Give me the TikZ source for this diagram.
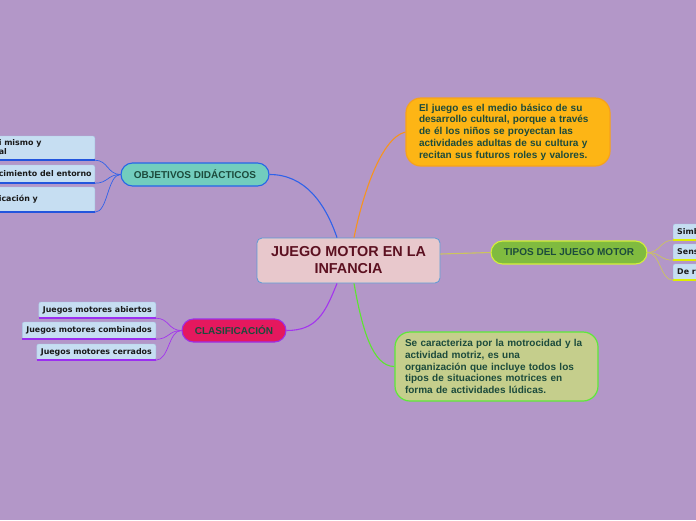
\documentclass[tikz,border=0pt]{standalone}
\usepackage{fontspec}
\setmainfont{Liberation Sans}
\newfontfamily\childfont{DejaVu Sans}
\usetikzlibrary{calc}
\definecolor{bg}{HTML}{B397C8}
\definecolor{cfill}{HTML}{E8C8CC}
\definecolor{cborder}{HTML}{5B9BD5}
\definecolor{ctext}{HTML}{5C1020}
\definecolor{ntext}{HTML}{1C4B3C}
\definecolor{ofill}{HTML}{FDB515}
\definecolor{oborder}{HTML}{F7A21B}
\definecolor{gfill}{HTML}{C5CE8C}
\definecolor{gborder}{HTML}{5EE83A}
\definecolor{objfill}{HTML}{72CDBE}
\definecolor{objborder}{HTML}{2566E8}
\definecolor{tipfill}{HTML}{80BB3F}
\definecolor{tipborder}{HTML}{D4F03A}
\definecolor{clafill}{HTML}{E5185E}
\definecolor{claborder}{HTML}{9B30E8}
\definecolor{chfill}{HTML}{C6DEF2}
\definecolor{chborder}{HTML}{A9C8E6}
\definecolor{lblue}{HTML}{2F62EA}
\definecolor{lorange}{HTML}{F7941D}
\definecolor{lolive}{HTML}{CCC45E}
\definecolor{lgreen}{HTML}{5CE62E}
\definecolor{lpurple}{HTML}{A335EE}
\definecolor{ulblue}{HTML}{2255DD}
\definecolor{ulpurple}{HTML}{9B2FF0}
\definecolor{ulyellow}{HTML}{DDEE00}
\tikzset{
  central/.style={draw=cborder, fill=cfill, line width=0.8pt, rounded corners=5pt,
    minimum width=183pt, minimum height=45pt, inner sep=0pt, align=center,
    font=\fontsize{14.4}{17}\selectfont\bfseries, text=ctext},
  note/.style={rounded corners=15pt, line width=1.2pt, inner ysep=0pt,
    align=left, font=\fontsize{10}{11.7}\selectfont\bfseries, text=ntext},
  topic/.style={rounded corners=11.5pt, line width=1.1pt, minimum height=23pt, inner sep=0pt,
    font=\fontsize{10}{12}\selectfont\bfseries, text=ntext},
  child/.style={fill=chfill, draw=chborder, line width=0.4pt, rounded corners=2pt,
    inner xsep=4pt, inner ysep=0pt, align=left, text=black!90,
    font=\childfont\fontsize{7.9}{9}\selectfont\bfseries},
  conn/.style={line width=1.1pt},
  sub/.style={line width=0.7pt},
}
\begin{document}
\begin{tikzpicture}[x=1pt,y=-1pt]
\useasboundingbox (0,0) rectangle (696,520);
\clip (0,0) rectangle (696,520);
\fill[bg] (0,0) rectangle (696,520);

% central
\node[central] (c) at (348.5,260.5) {JUEGO MOTOR EN LA\\INFANCIA};

% notes
\node[note, draw=oborder, fill=ofill, inner xsep=13pt, minimum width=204pt, minimum height=68pt, text width=178pt] (o) at (508,132)
 {El juego es el medio básico de su\\desarrollo cultural, porque a través\\de él los niños se proyectan las\\actividades adultas de su cultura y\\recitan sus futuros roles y valores.};
\node[note, draw=gborder, fill=gfill, inner xsep=10pt, minimum width=203pt, minimum height=69pt, text width=183pt] (g) at (496.5,366.5)
 {Se caracteriza por la motrocidad y la\\actividad motriz, es una\\organización que incluye todos los\\tipos de situaciones motrices en\\forma de actividades lúdicas.};

% topics
\node[topic, draw=objborder, fill=objfill, minimum width=148pt] (obj) at (195,174.5) {OBJETIVOS DIDÁCTICOS};
\node[topic, draw=tipborder, fill=tipfill, minimum width=156pt] (tip) at (569,252.5) {TIPOS DEL JUEGO MOTOR};
\node[topic, draw=claborder, fill=clafill, minimum width=104pt] (cla) at (234,330.5) {CLASIFICACIÓN};

% main connectors
\coordinate (ctl) at ($(c.north)+(-11.5,0)$);
\coordinate (ctr) at ($(c.north)+(5.5,0)$);
\coordinate (cbl) at ($(c.south)+(-11.5,0)$);
\coordinate (cbr) at ($(c.south)+(5.5,0)$);
\coordinate (cer) at ($(c.east)+(0,-6.5)$);
\draw[conn, lblue] (obj.east) .. controls +(35,0) and +(-12,-35) .. (ctl);
\draw[conn, lorange] (ctr) .. controls +(8,-40) and +(-25,6) .. (o.west);
\draw[conn, lolive] (cer) .. controls +(25,0) and +(-25,0) .. (tip.west);
\draw[conn, lgreen] (cbr) .. controls +(8,45) and +(-22,0) .. (g.west);
\draw[conn, lpurple] (cbl) .. controls +(-12,30) and +(30,0) .. (cla.east);

% objetivos children
\node[child, anchor=east, minimum height=24pt] (o1) at (95,148) {\makebox[92pt][l]{\begin{tabular}{@{}l@{}}i mismo y\\al\end{tabular}}};
\node[child, anchor=east, minimum height=18pt] (o2) at (95,174) {\makebox[92pt][l]{cimiento del entorno}};
\node[child, anchor=east, minimum height=25pt] (o3) at (95,199.5) {\makebox[92pt][l]{\begin{tabular}{@{}l@{}}icación y\\\end{tabular}}};
\foreach \n in {o1,o2,o3}{
  \draw[ulblue, line width=1.5pt] (\n.south west) -- (\n.south east);
  \draw[sub, lblue] (obj.west) .. controls +(-13,0) and +(13,0) .. (\n.south east);
}

% clasificacion children
\node[child, anchor=east, minimum height=16pt] (k1) at (156,310) {Juegos motores abiertos};
\node[child, anchor=east, minimum height=17pt] (k2) at (156,330.5) {Juegos motores combinados};
\node[child, anchor=east, minimum height=16pt] (k3) at (156,352) {Juegos motores cerrados};
\foreach \n in {k1,k2,k3}{
  \draw[ulpurple, line width=1.5pt] (\n.south west) -- (\n.south east);
  \draw[sub, lpurple] (cla.west) .. controls +(-13,0) and +(13,0) .. (\n.south east);
}

% tipos children
\node[child, anchor=west, minimum height=16pt] (t1) at (673,232) {\makebox[52pt][l]{Simb}};
\node[child, anchor=west, minimum height=16pt] (t2) at (673,252) {\makebox[52pt][l]{Sens}};
\node[child, anchor=west, minimum height=16pt] (t3) at (673,272) {\makebox[52pt][l]{De r}};
\foreach \n in {t1,t2,t3}{
  \draw[ulyellow, line width=1.5pt] (\n.south west) -- (\n.south east);
  \draw[sub, lolive] (tip.east) .. controls +(13,0) and +(-13,0) .. (\n.south west);
}
\end{tikzpicture}
\end{document}
